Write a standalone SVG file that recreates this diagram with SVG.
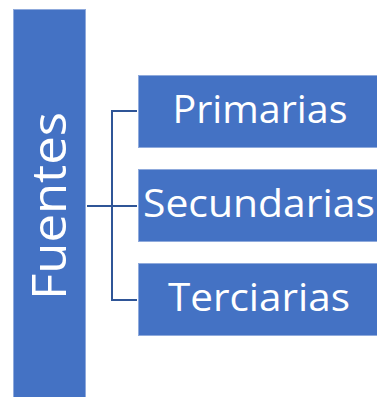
<svg xmlns="http://www.w3.org/2000/svg" width="377" height="397" viewBox="0 0 377 397">
<style>
.box{fill:#4472C4;stroke:#8FAADC;stroke-width:1}
.lbl{font-family:"Open Sans","Liberation Sans",sans-serif;fill:#FFFFFF;font-size:38px;text-anchor:middle}
.conn{stroke:#2F5597;stroke-width:2;fill:none}
</style>
<rect width="377" height="397" fill="#FFFFFF"/>
<g id="fuentes">
<rect class="box" x="13.5" y="9.5" width="72" height="390"/>
<text class="lbl" style="font-size:47px" transform="translate(66,206) rotate(-90)" textLength="188" lengthAdjust="spacingAndGlyphs">Fuentes</text>
</g>
<g id="connectors">
<path class="conn" d="M87,206 H112 M112,111 V300 M111,111 H137 M111,206 H137 M111,300 H137"/>
</g>
<g id="primarias">
<rect class="box" x="138.5" y="75.5" width="242" height="72"/>
<text class="lbl" x="260" y="123" textLength="175" lengthAdjust="spacingAndGlyphs">Primarias</text>
</g>
<g id="secundarias">
<rect class="box" x="138.5" y="169.5" width="242" height="72"/>
<text class="lbl" x="259" y="217" textLength="232" lengthAdjust="spacingAndGlyphs">Secundarias</text>
</g>
<g id="terciarias">
<rect class="box" x="138.5" y="263.5" width="242" height="72"/>
<text class="lbl" x="259" y="311" textLength="182" lengthAdjust="spacingAndGlyphs">Terciarias</text>
</g>
</svg>
